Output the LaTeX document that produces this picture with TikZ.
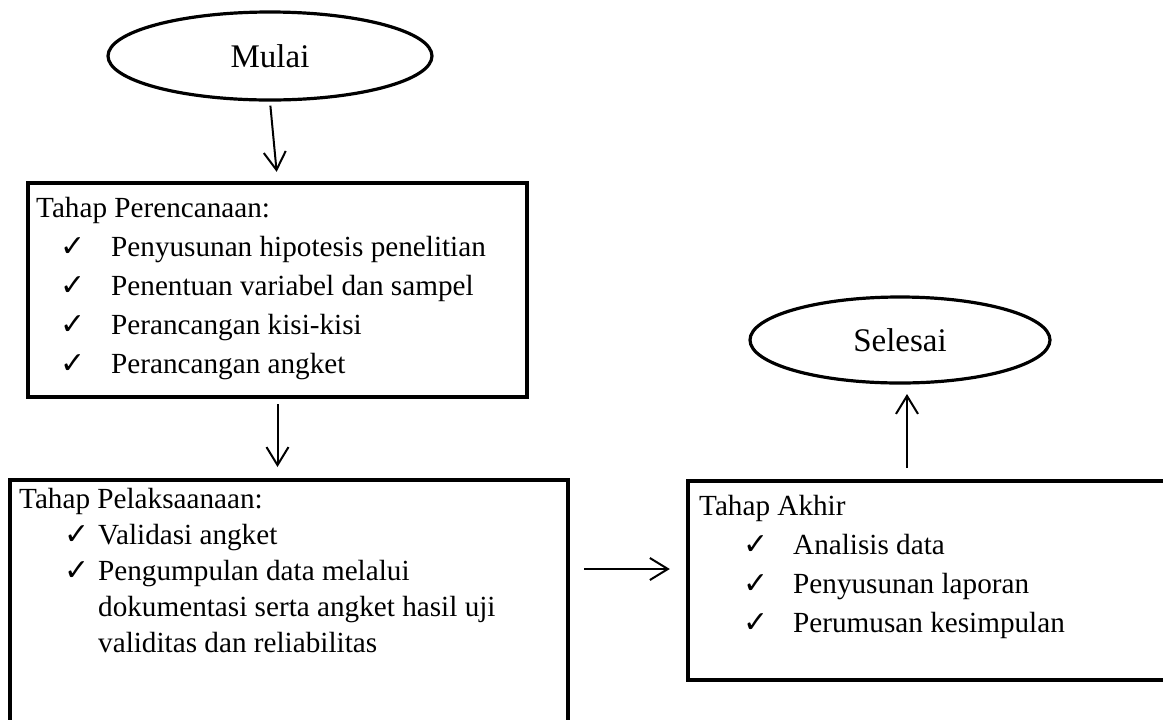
\documentclass[tikz,border=0pt]{standalone}
\usepackage{fontspec}
\setmainfont{Liberation Serif}
\newfontfamily\symfont{DejaVu Sans}
\usetikzlibrary{arrows.meta, positioning, shapes.geometric, calc}

% check mark with indent (#1) and gap to the item text (#2)
\newcommand{\cek}[2]{\hspace*{#1}\makebox[#2][l]{\symfont\fontsize{15}{15}\selectfont ✓}}

\begin{document}
\begin{tikzpicture}[x=0.5pt, y=-0.5pt]
    % Define styles
    \tikzstyle{terminal}=[draw, ellipse, line width=1.6pt, inner sep=0pt, font=\fontsize{16.5}{19.5}\selectfont]
    \tikzstyle{stagebox}=[draw, rectangle, line width=2.2pt, inner sep=0pt]
    \tikzstyle{stagetext}=[anchor=north west, align=left, inner sep=0pt, font=\fontsize{14.6}{19.5}\selectfont]
    \tikzstyle{flow}=[-{Straight Barb[length=9pt, width=11pt]}, line width=1pt]

    % Canvas (the lower box runs off the page)
    \path[clip] (0,0) rectangle (1163,719);
    \useasboundingbox (0,0) rectangle (1163,719);

    % Start
    \node[terminal, minimum width=162pt, minimum height=44pt] (mulai) at (270,56) {Mulai};

    % Planning stage
    \node[stagebox, minimum width=249.5pt, minimum height=107pt] (perencanaan) at (277.5,290) {};
    \node[stagetext] (perencanaantext) at ([shift={(5pt,-8pt)}]perencanaan.north west) {Tahap Perencanaan:\\
        \cek{12pt}{25.5pt}Penyusunan hipotesis penelitian\\
        \cek{12pt}{25.5pt}Penentuan variabel dan sampel\\
        \cek{12pt}{25.5pt}Perancangan kisi-kisi\\
        \cek{12pt}{25.5pt}Perancangan angket};

    % Implementation stage
    \node[stagebox, minimum width=279pt, minimum height=130pt] (pelaksanaan) at (289,610) {};
    \node[stagetext, font=\fontsize{14.6}{18}\selectfont] (pelaksanaantext) at ([shift={(5.5pt,-5pt)}]pelaksanaan.north west) {Tahap Pelaksaanaan:\\
        \cek{22.5pt}{17pt}Validasi angket\\
        \cek{22.5pt}{17pt}Pengumpulan data melalui\\
        \hspace*{39.5pt}dokumentasi serta angket hasil uji\\
        \hspace*{39.5pt}validitas dan reliabilitas};

    % Final stage
    \node[stagebox, minimum width=243.5pt, minimum height=99.5pt] (akhir) at (931.5,580.5) {};
    \node[stagetext] (akhirtext) at ([shift={(6.5pt,-8pt)}]akhir.north west) {Tahap Akhir\\
        \cek{22pt}{25pt}Analisis data\\
        \cek{22pt}{25pt}Penyusunan laporan\\
        \cek{22pt}{25pt}Perumusan kesimpulan};

    % End
    \node[terminal, minimum width=150pt, minimum height=43pt] (selesai) at (900,340) {Selesai};

    % Arrows
    \draw[flow, shorten <=2pt, shorten >=4.5pt] (mulai.south) -- (perencanaan.north);
    \draw[flow, shorten <=2.4pt, shorten >=5.4pt] (perencanaan.south) -- (perencanaan.south |- pelaksanaan.north);
    \draw[flow, shorten <=7pt, shorten >=8pt] ($(pelaksanaan.east |- akhir.west)+(0,5.75pt)$) -- ($(akhir.west)+(0,5.75pt)$);
    \draw[flow, shorten <=5.4pt, shorten >=4.7pt] ($(selesai.south |- akhir.north)+(3.5pt,0)$) -- ($(selesai.south)+(3.5pt,0)$);
\end{tikzpicture}
\end{document}
